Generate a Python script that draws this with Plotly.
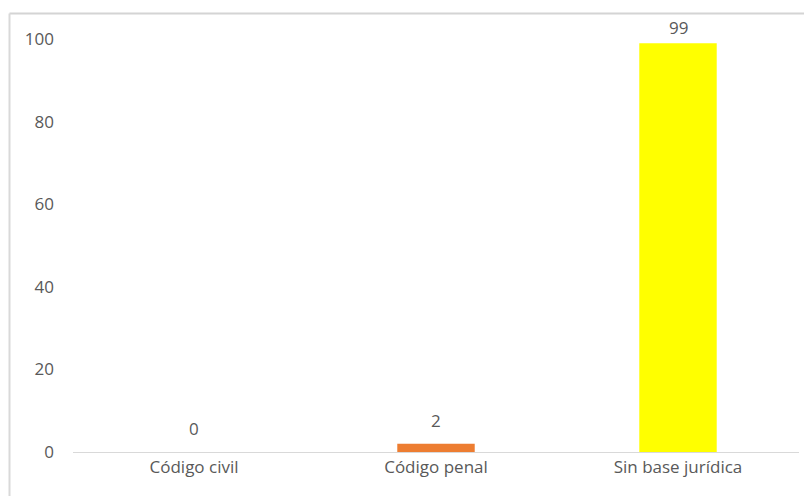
import plotly.graph_objects as go

categories = ["Código civil", "Código penal", "Sin base jurídica"]
values = [0, 2, 99]
colors = ["#4472C4", "#ED7D31", "#FFFF00"]
y_ticks = [0, 20, 40, 60, 80, 100]
label_gap = [10, 10, 2]  # px gap between bar top and its value label

W, H = 804, 488
L, R, T, B = 65, 13, 31, 44
pw, ph = W - L - R, H - T - B

fig = go.Figure(go.Bar(
    x=categories, y=values,
    marker=dict(color=colors, line=dict(width=0)),
    cliponaxis=False, width=0.32, hoverinfo="x+y",
))

for c, v, g in zip(categories, values, label_gap):
    fig.add_annotation(x=c, y=v, text=str(v), showarrow=False,
                       yanchor="bottom", yshift=g,
                       font=dict(color="#595959", size=17))

x_left = (1.5 - L) / pw
y_top = 1 + (T - 5.5) / ph
fig.update_layout(
    width=W, height=H,
    margin=dict(l=L, r=R, t=T, b=B),
    paper_bgcolor="white", plot_bgcolor="white",
    font=dict(family="Open Sans", size=17, color="#595959"),
    showlegend=False,
    xaxis=dict(showline=True, linecolor="#d9d9d9", linewidth=1, ticks="",
               tickfont=dict(size=17, color="#595959"), showgrid=False),
    yaxis=dict(range=[0, 100], tickvals=y_ticks, showgrid=False, zeroline=False,
               showline=False, ticks="", ticklabelstandoff=18,
               tickfont=dict(size=17, color="#595959")),
    shapes=[
        dict(type="line", xref="paper", yref="paper",
             x0=x_left, x1=1.2, y0=y_top, y1=y_top,
             line=dict(color="#d4d4d4", width=2)),
        dict(type="line", xref="paper", yref="paper",
             x0=x_left, x1=x_left, y0=y_top, y1=-0.3,
             line=dict(color="#d9d9d9", width=2)),
    ],
)

fig.write_html("out.html")
